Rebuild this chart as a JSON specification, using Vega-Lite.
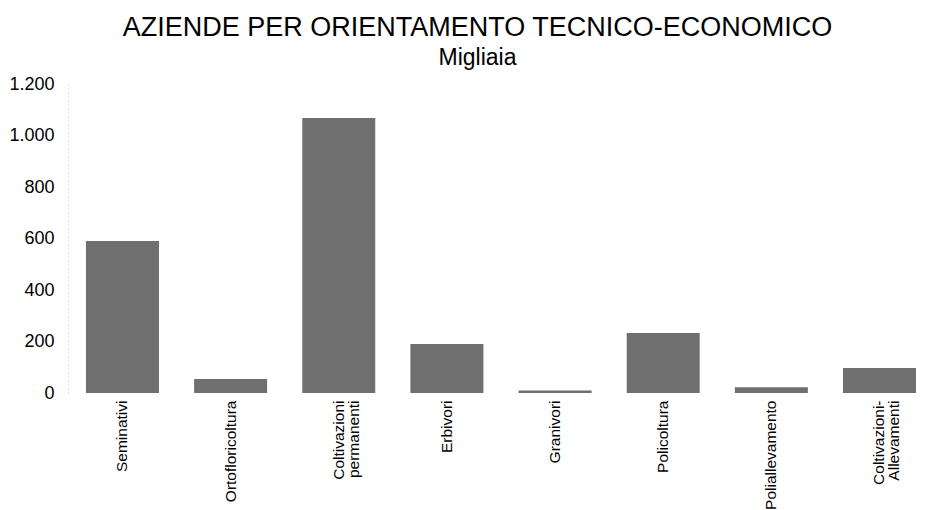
{
  "$schema": "https://vega.github.io/schema/vega-lite/v6.json",
  "autosize": "none",
  "width": 859,
  "height": 309,
  "padding": {"left": 68, "top": 84, "right": 0, "bottom": 117},
  "background": "white",
  "title": {
    "text": "AZIENDE PER ORIENTAMENTO TECNICO-ECONOMICO",
    "subtitle": "Migliaia",
    "anchor": "middle",
    "frame": "group",
    "dx": -20,
    "offset": 4,
    "font": "Liberation Sans",
    "fontSize": 27,
    "fontWeight": "normal",
    "color": "black",
    "subtitleFont": "Liberation Sans",
    "subtitleFontSize": 23,
    "subtitleColor": "black",
    "subtitlePadding": 5
  },
  "data": {
    "values": [
      {"categoria": "Seminativi", "aziende": 590},
      {"categoria": "Ortofloricoltura", "aziende": 54},
      {"categoria": "Coltivazioni\npermanenti", "aziende": 1068},
      {"categoria": "Erbivori", "aziende": 190},
      {"categoria": "Granivori", "aziende": 10},
      {"categoria": "Policoltura", "aziende": 233},
      {"categoria": "Poliallevamento", "aziende": 22},
      {"categoria": "Coltivazioni-\nAllevamenti", "aziende": 97}
    ]
  },
  "mark": {"type": "bar", "color": "#6f6f6f"},
  "encoding": {
    "x": {
      "field": "categoria",
      "type": "nominal",
      "sort": null,
      "scale": {"paddingInner": 0.325, "paddingOuter": 0.134, "align": 0.62},
      "axis": {
        "title": null,
        "labelAngle": -90,
        "labelAlign": "right",
        "labelBaseline": "middle",
        "labelExpr": "split(datum.label, '\\n')",
        "labelFont": "Liberation Sans",
        "labelFontSize": 15.5,
        "labelColor": "black",
        "labelPadding": 7,
        "labelLineHeight": 15,
        "domain": false,
        "ticks": false
      }
    },
    "y": {
      "field": "aziende",
      "type": "quantitative",
      "scale": {"domain": [0, 1200], "nice": false},
      "axis": {
        "title": null,
        "values": [0, 200, 400, 600, 800, 1000, 1200],
        "labelExpr": "replace(format(datum.value, ','), ',', '.')",
        "labelFont": "Liberation Sans",
        "labelFontSize": 18,
        "labelColor": "black",
        "labelPadding": 14,
        "ticks": false,
        "grid": false,
        "domain": true,
        "domainColor": "#bbbbbb",
        "domainDash": [1, 3]
      }
    }
  },
  "config": {"view": {"stroke": null}}
}
